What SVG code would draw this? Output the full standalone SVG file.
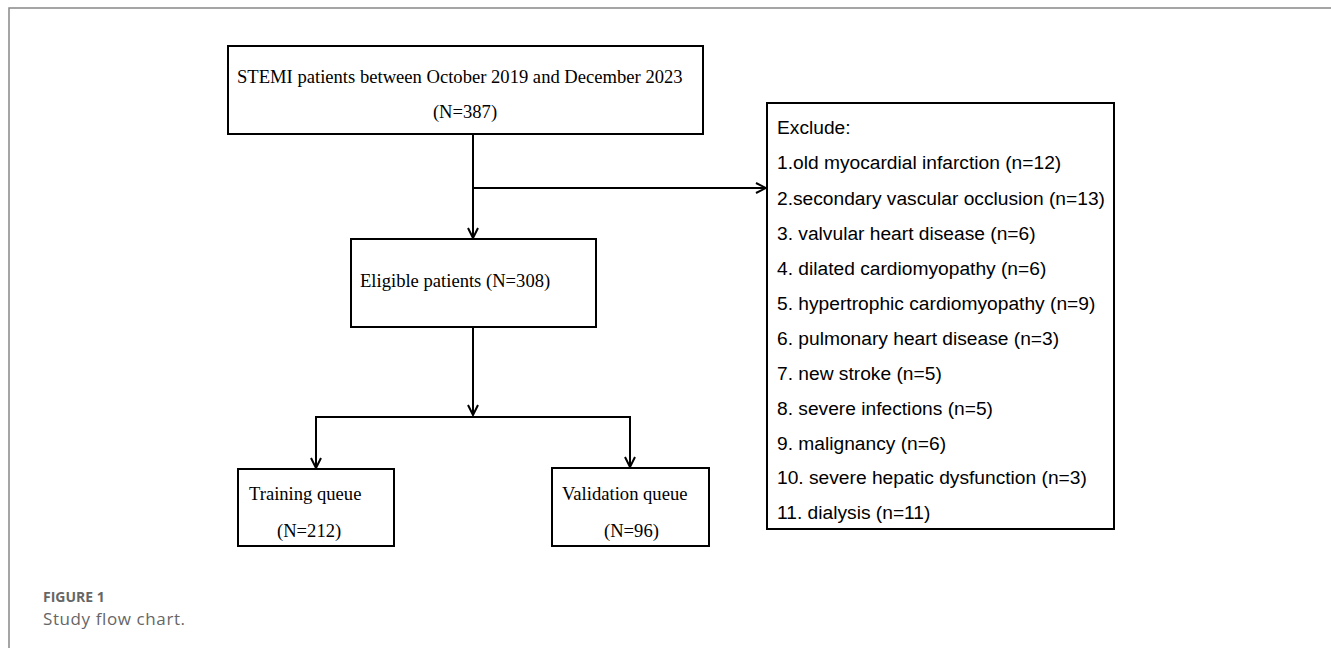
<svg xmlns="http://www.w3.org/2000/svg" width="1331" height="648" viewBox="0 0 1331 648">
<style>
.box{fill:#fff;stroke:#000;stroke-width:2}
.serif{font-family:"Liberation Serif",serif;font-size:18.6px;fill:#000}
.sans{font-family:"Liberation Sans",Arial,sans-serif;font-size:19.2px;fill:#000}
.conn{fill:none;stroke:#000;stroke-width:2}
.frame{fill:none;stroke:#888;stroke-width:1.5}
</style>
<defs>
<marker id="arr" viewBox="0 0 12 12" refX="11" refY="6" markerWidth="12" markerHeight="12" markerUnits="userSpaceOnUse" orient="auto">
<path d="M1,1 L11,6 L1,11" fill="none" stroke="#000" stroke-width="2"/>
</marker>
</defs>
<rect width="1331" height="648" fill="#fff"/>
<path class="frame" d="M9,648 V8 H1331"/>
<g id="connectors">
<line class="conn" x1="473" y1="134" x2="473" y2="238" marker-end="url(#arr)"/>
<line class="conn" x1="473" y1="188" x2="766" y2="188" marker-end="url(#arr)"/>
<line class="conn" x1="473" y1="327" x2="473" y2="415" marker-end="url(#arr)"/>
<path class="conn" d="M316,468 V417 H630 V467" />
<line class="conn" x1="316" y1="440" x2="316" y2="468" marker-end="url(#arr)"/>
<line class="conn" x1="630" y1="440" x2="630" y2="467" marker-end="url(#arr)"/>
</g>
<g id="node-stemi">
<rect class="box" x="228" y="46" width="475" height="88"/>
<text class="serif" x="237" y="83">STEMI patients between October 2019 and December 2023</text>
<text class="serif" x="465" y="118" text-anchor="middle">(N=387)</text>
</g>
<g id="node-eligible">
<rect class="box" x="351" y="239" width="245" height="88"/>
<text class="serif" x="360" y="287">Eligible patients (N=308)</text>
</g>
<g id="node-training">
<rect class="box" x="238" y="469" width="156" height="77"/>
<text class="serif" x="249" y="500">Training queue</text>
<text class="serif" x="277" y="537">(N=212)</text>
</g>
<g id="node-validation">
<rect class="box" x="552" y="468" width="157" height="78"/>
<text class="serif" x="562" y="500">Validation queue</text>
<text class="serif" x="604" y="537">(N=96)</text>
</g>
<g id="node-exclude">
<rect class="box" x="767" y="103" width="347" height="426"/>
<text class="sans" x="777" y="134">Exclude:</text>
<text class="sans" x="777" y="169">1.old myocardial infarction (n=12)</text>
<text class="sans" x="777" y="205">2.secondary vascular occlusion (n=13)</text>
<text class="sans" x="777" y="240">3. valvular heart disease (n=6)</text>
<text class="sans" x="777" y="275">4. dilated cardiomyopathy  (n=6)</text>
<text class="sans" x="777" y="310">5. hypertrophic cardiomyopathy (n=9)</text>
<text class="sans" x="777" y="345">6. pulmonary heart disease (n=3)</text>
<text class="sans" x="777" y="380">7. new stroke (n=5)</text>
<text class="sans" x="777" y="415">8. severe infections (n=5)</text>
<text class="sans" x="777" y="450">9. malignancy (n=6)</text>
<text class="sans" x="777" y="484">10. severe hepatic dysfunction (n=3)</text>
<text class="sans" x="777" y="519">11. dialysis (n=11)</text>
</g>
<g id="caption">
<text x="43" y="602" font-family="'Open Sans',sans-serif" font-size="14" font-weight="bold" fill="#666">FIGURE 1</text>
<text x="43" y="625" font-family="'Open Sans',sans-serif" font-size="17" letter-spacing="0.6" fill="#666">Study flow chart.</text>
</g>
</svg>
